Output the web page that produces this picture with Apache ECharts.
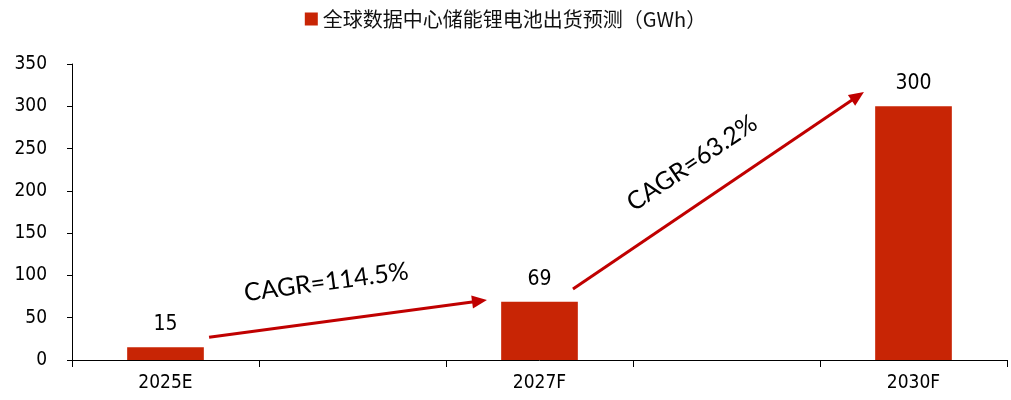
<!DOCTYPE html>
<html>
<head>
<meta charset="utf-8">
<script src="https://cdn.jsdelivr.net/npm/echarts@6/dist/echarts.min.js"></script>
<style>
  html, body { margin: 0; padding: 0; background: #fff; }
  #chart { width: 1011px; height: 400px; }
</style>
</head>
<body>
<div id="chart"></div>
<script>
// Shipment forecast: empty slots keep the year spacing on the category axis
const categories = ['2025E', '', '2027F', '', '2030F'];
const shipments = [15, null, 69, null, 300];
const seriesName = '全球数据中心储能锂电池出货预测（GWh）';
const yTicks = { min: 0, max: 350, interval: 50 };

// Growth arrows, anchored in data space: [fractional category index, value]
const growthArrows = [
  { label: 'CAGR=114.5%', from: [0.233, 27], to: [1.719, 71], text: [0.86, 92] },
  { label: 'CAGR=63.2%', from: [2.179, 84], to: [3.735, 317], text: [2.816, 233] }
];

const barColor = '#C82505';
const arrowColor = '#C00000';
const numFont = 'DejaVu Sans Condensed';

const chart = echarts.init(document.getElementById('chart'));

chart.setOption({
  animation: false,
  backgroundColor: '#fff',
  legend: {
    top: 4,
    left: 'center',
    itemWidth: 13,
    itemHeight: 13,
    itemGap: 6,
    icon: 'rect',
    textStyle: { fontFamily: 'Noto Sans CJK SC', fontSize: 20, color: '#111' },
    data: [seriesName]
  },
  grid: { left: 72, right: 4, top: 64, bottom: 40 },
  xAxis: {
    type: 'category',
    data: categories,
    boundaryGap: true,
    axisLine: { lineStyle: { color: '#000', width: 1 } },
    axisTick: { show: true, interval: 0, length: 7, lineStyle: { color: '#000' } },
    axisLabel: { interval: 0, margin: 14, fontFamily: numFont, fontSize: 19, color: '#000' }
  },
  yAxis: {
    type: 'value',
    min: yTicks.min,
    max: yTicks.max,
    interval: yTicks.interval,
    splitLine: { show: false },
    axisLine: { show: true, lineStyle: { color: '#000', width: 1 } },
    axisTick: { show: true, length: 5, lineStyle: { color: '#000' } },
    axisLabel: { margin: 25, fontFamily: numFont, fontSize: 19, color: '#000' }
  },
  series: [{
    name: seriesName,
    type: 'bar',
    data: shipments,
    barWidth: '41%',
    itemStyle: { color: barColor },
    label: {
      show: true,
      position: 'top',
      distance: 12,
      fontFamily: numFont,
      fontSize: 21,
      color: '#000'
    }
  }]
});

// Category axis snaps to whole slots, so interpolate fractional indices between slot centres
function toPixel(pt) {
  const a = chart.convertToPixel({ gridIndex: 0 }, [0, pt[1]]);
  const b = chart.convertToPixel({ gridIndex: 0 }, [1, pt[1]]);
  return [a[0] + (b[0] - a[0]) * pt[0], a[1]];
}

// Draw arrows and their CAGR captions from the data anchors
function arrowGraphics() {
  const out = [];
  growthArrows.forEach(function (a, i) {
    const p1 = toPixel(a.from);
    const p2 = toPixel(a.to);
    const pt = toPixel(a.text);
    const dx = p2[0] - p1[0], dy = p2[1] - p1[1];
    const len = Math.sqrt(dx * dx + dy * dy);
    const ux = dx / len, uy = dy / len;
    const headLen = 15, headHalf = 6.5;
    const bx = p2[0] - ux * headLen, by = p2[1] - uy * headLen;
    out.push({
      type: 'line',
      id: 'arrowLine' + i,
      shape: { x1: p1[0], y1: p1[1], x2: bx + ux * 2, y2: by + uy * 2 },
      style: { stroke: arrowColor, lineWidth: 3 },
      z: 10
    });
    out.push({
      type: 'polygon',
      id: 'arrowHead' + i,
      shape: {
        points: [
          [p2[0], p2[1]],
          [bx - uy * headHalf, by + ux * headHalf],
          [bx + uy * headHalf, by - ux * headHalf]
        ]
      },
      style: { fill: arrowColor },
      z: 10
    });
    out.push({
      type: 'text',
      id: 'arrowText' + i,
      x: pt[0],
      y: pt[1],
      rotation: Math.atan2(-dy, dx),
      style: {
        text: a.label,
        fontFamily: 'Lato',
        fontSize: 25,
        fill: '#000',
        align: 'center',
        verticalAlign: 'middle'
      },
      z: 11
    });
  });
  return out;
}

chart.setOption({ graphic: arrowGraphics() });
</script>
</body>
</html>
